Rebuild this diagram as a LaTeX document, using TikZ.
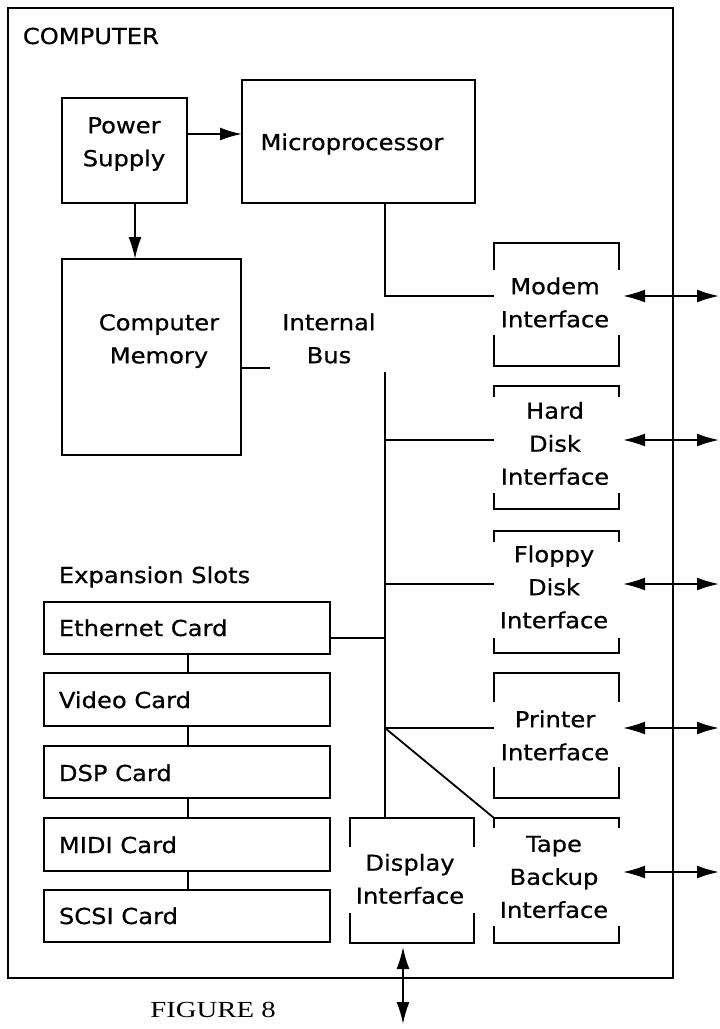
\documentclass[tikz,border=0pt]{standalone}
\usepackage{fontspec}
\newfontfamily\labf{DejaVu Sans}[FakeStretch=1.1,FakeBold=0.6]
\newfontfamily\figf{Liberation Serif}[FakeStretch=1.25]
\usetikzlibrary{arrows.meta,calc}
\newcommand\brkt[3]{%
  \draw ([yshift=-#2pt]#1.north west) -- (#1.north west) -- (#1.north east) -- ([yshift=-#2pt]#1.north east);
  \draw ([yshift=#3pt]#1.south west) -- (#1.south west) -- (#1.south east) -- ([yshift=#3pt]#1.south east);}
\begin{document}
\begin{tikzpicture}[x=1pt,y=-1pt,
  line width=1.8pt,
  >={Latex[length=22pt,width=13pt]},
  box/.style={draw, rectangle, inner sep=0pt, outer sep=0pt, anchor=north west},
  iface/.style={rectangle, inner sep=0pt, outer sep=0pt, anchor=north west},
  lab/.style={font=\labf\fontsize{22}{33}\selectfont, align=center, inner sep=0pt},
  figlab/.style={font=\figf\fontsize{23}{27}\selectfont, inner sep=0pt}]
\useasboundingbox (0,0) rectangle (720,1029);

% outer box
\node[box, minimum width=665, minimum height=970] (comp) at (8,8) {};
\node[lab, anchor=base west] (tcomp) at (22,44) {COMPUTER};

% main boxes
\node[box, minimum width=125, minimum height=105] (ps) at (62,98) {};
\node[box, minimum width=233, minimum height=123] (mp) at (242,80) {};
\node[box, minimum width=179, minimum height=196] (mem) at (62,259) {};

% expansion cards
\node[box, minimum width=286, minimum height=52] (eth) at (44,602) {};
\node[box, minimum width=286, minimum height=53] (vid) at (44,673) {};
\node[box, minimum width=286, minimum height=52] (dsp) at (44,746) {};
\node[box, minimum width=286, minimum height=53] (midi) at (44,818) {};
\node[box, minimum width=286, minimum height=52] (scsi) at (44,890) {};

% interfaces (bracket shapes)
\node[iface, minimum width=125, minimum height=123] (mdm) at (494,243) {};
\node[iface, minimum width=125, minimum height=123] (hdd) at (494,386) {};
\node[iface, minimum width=125, minimum height=122] (fdd) at (494,531) {};
\node[iface, minimum width=125, minimum height=125] (prn) at (494,673) {};
\node[iface, minimum width=125, minimum height=125] (tape) at (494,818) {};
\node[iface, minimum width=124, minimum height=125] (disp) at (350,818) {};
\brkt{mdm}{27}{31}
\brkt{hdd}{11}{16}
\brkt{fdd}{11}{15}
\brkt{prn}{29}{31}
\brkt{tape}{10}{17}
\brkt{disp}{29}{30}

% labels
\node[lab] (tps) at (124,144) {Power\\Supply};
\node[lab] (tmp) at (352,144) {Microprocessor};
\node[lab] (tmem) at (159,341) {Computer\\Memory};
\node[lab] (tbus) at (329,338.5) {Internal\\Bus};
\node[lab] (tmdm) at (555,302.5) {Modem\\Interface};
\node[lab] (thdd) at (555,443.5) {Hard\\Disk\\Interface};
\node[lab] (tfdd) at (554,587) {Floppy\\Disk\\Interface};
\node[lab] (tprn) at (555,735.5) {Printer\\Interface};
\node[lab] (ttape) at (554,877) {Tape\\Backup\\Interface};
\node[lab] (tdisp) at (410,879) {Display\\Interface};
\node[lab, anchor=base west] (texp) at (58,583) {Expansion Slots};
\node[lab, anchor=base west] (teth) at (58,636) {Ethernet Card};
\node[lab, anchor=base west] (tvid) at (58,708) {Video Card};
\node[lab, anchor=base west] (tdsp) at (58,781) {DSP Card};
\node[lab, anchor=base west] (tmidi) at (58,853) {MIDI Card};
\node[lab, anchor=base west] (tscsi) at (58,924) {SCSI Card};
\node[figlab, anchor=base] (tfig) at (213,1017) {FIGURE 8};

% coordinates
\coordinate (py) at (0,134);
\coordinate (pxd) at (135,0);
\coordinate (b0) at (385,203);
\coordinate (b1) at (385,296);
\coordinate (b2) at (385,372);
\coordinate (b3) at (385,440);
\coordinate (b4) at (385,584);
\coordinate (b5) at (385,638);
\coordinate (b6) at (385,728);
\coordinate (ty) at (0,872);
\coordinate (mstub) at (270,368);
\coordinate (cx) at (188,0);
\coordinate (ax) at (623,0);
\coordinate (rx) at (719,0);
\coordinate (dtop) at (403,947);
\coordinate (dbot) at (403,1024);

% power arrows
\draw[->] (ps.east |- py) -- (mp.west |- py);
\draw[->] (ps.south -| pxd) -- (mem.north -| pxd);

% internal bus
\draw (mp.south -| b0) -- (b1) -- (mdm.west |- b1);
\draw (b2) -- (disp.north -| b2);
\draw (b3) -- (hdd.west |- b3);
\draw (b4) -- (fdd.west |- b4);
\draw (b5) -- (eth.east |- b5);
\draw (b6) -- (prn.west |- b6);
\draw (b6) -- (tape.north west);
\draw (mem.east |- mstub) -- (mstub);

% card chain
\draw (eth.south -| cx) -- (vid.north -| cx);
\draw (vid.south -| cx) -- (dsp.north -| cx);
\draw (dsp.south -| cx) -- (midi.north -| cx);
\draw (midi.south -| cx) -- (scsi.north -| cx);

% external arrows
\draw[<->] (ax |- b1) -- (rx |- b1);
\draw[<->] (ax |- b3) -- (rx |- b3);
\draw[<->] (ax |- b4) -- (rx |- b4);
\draw[<->] (ax |- b6) -- (rx |- b6);
\draw[<->] (ax |- ty) -- (rx |- ty);
\draw[<->] (dtop) -- (dbot);
\end{tikzpicture}
\end{document}
